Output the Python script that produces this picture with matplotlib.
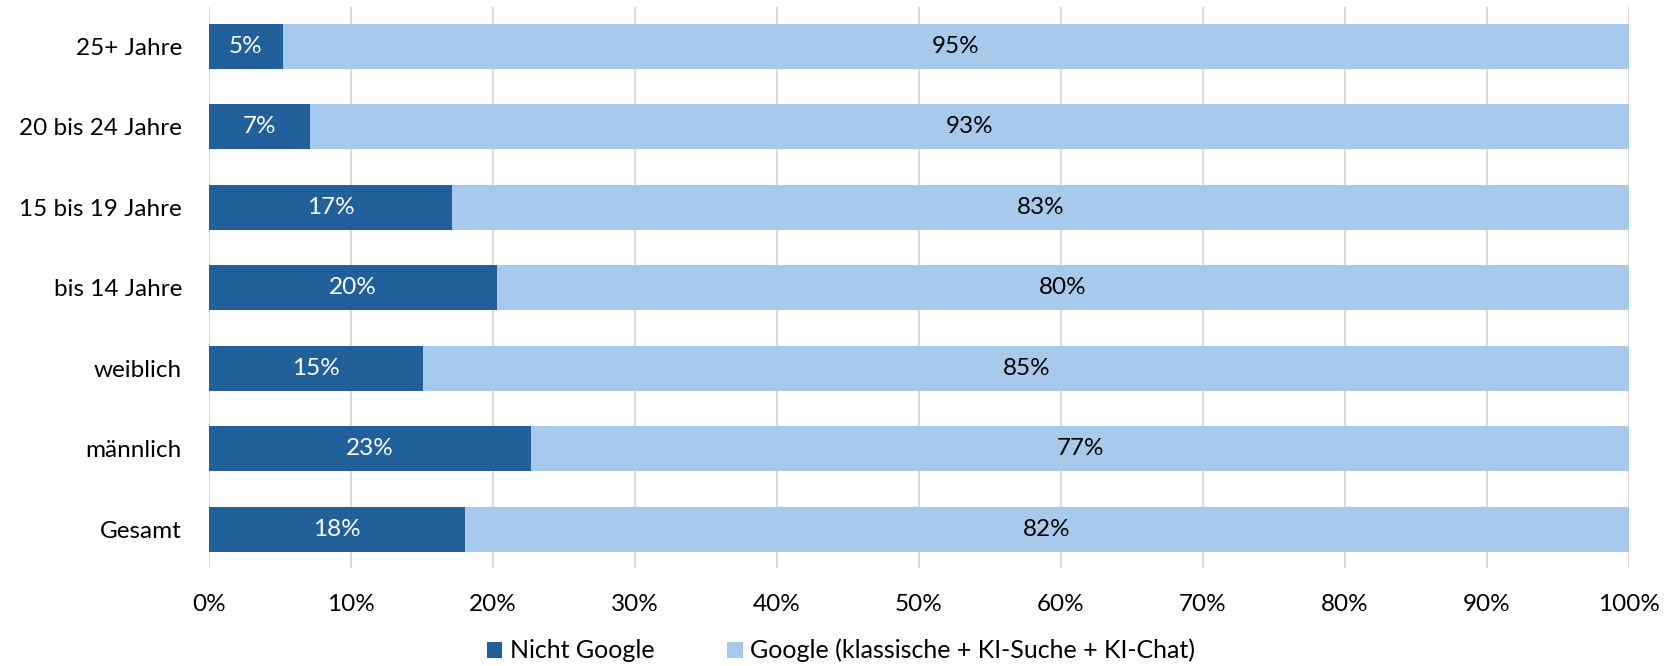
import matplotlib
matplotlib.use("Agg")
import matplotlib.pyplot as plt
from matplotlib.ticker import FuncFormatter

plt.rcParams['font.family'] = ['Lato', 'DejaVu Sans']

categories = ["Gesamt", "männlich", "weiblich", "bis 14 Jahre", "15 bis 19 Jahre", "20 bis 24 Jahre", "25+ Jahre"]
nicht_google = [18.0, 22.7, 15.1, 20.3, 17.1, 7.1, 5.2]
google = [82.0, 77.3, 84.9, 79.7, 82.9, 92.9, 94.8]
series_names = ["Nicht Google", "Google (klassische + KI-Suche + KI-Chat)"]
xticks = [0, 10, 20, 30, 40, 50, 60, 70, 80, 90, 100]

dark = "#22609B"
light = "#A7CAEC"
fs = 17.5

fig = plt.figure(figsize=(16.72, 6.66), dpi=100)
ax = fig.add_axes([0.125, 0.1471, 0.8493, 0.8424])

y = list(range(len(categories)))
h = 0.56
b1 = ax.barh(y, nicht_google, height=h, color=dark, label=series_names[0], zorder=3)
b2 = ax.barh(y, google, left=nicht_google, height=h, color=light, label=series_names[1], zorder=3)

for i in y:
    ax.text(nicht_google[i] / 2, i, f"{round(nicht_google[i])}%", ha="center", va="center",
            color="white", fontsize=fs, zorder=4)
    ax.text(nicht_google[i] + google[i] / 2, i, f"{round(google[i])}%", ha="center", va="center",
            color="black", fontsize=fs, zorder=4)

ax.set_xlim(0, 100)
ax.set_ylim(-0.48, 6.49)
ax.set_xticks(xticks)
ax.xaxis.set_major_formatter(FuncFormatter(lambda v, p: f"{int(v)}%"))
ax.set_yticks(y)
ax.set_yticklabels(categories)
ax.tick_params(axis="both", length=0, labelsize=fs, colors="black")
ax.tick_params(axis="x", pad=19)
ax.tick_params(axis="y", pad=19.5)
ax.grid(axis="x", color="#D9D9D9", linewidth=1.5, zorder=0)
for s in ax.spines.values():
    s.set_visible(False)

fig.legend(handles=[b1, b2], labels=series_names, loc="center", bbox_to_anchor=(0.503, 0.023),
           ncol=2, frameon=False, fontsize=18, handlelength=0.62, handleheight=0.62,
           handletextpad=0.3, columnspacing=2.9, borderpad=0.0)

fig.savefig("out.png", dpi=100)
